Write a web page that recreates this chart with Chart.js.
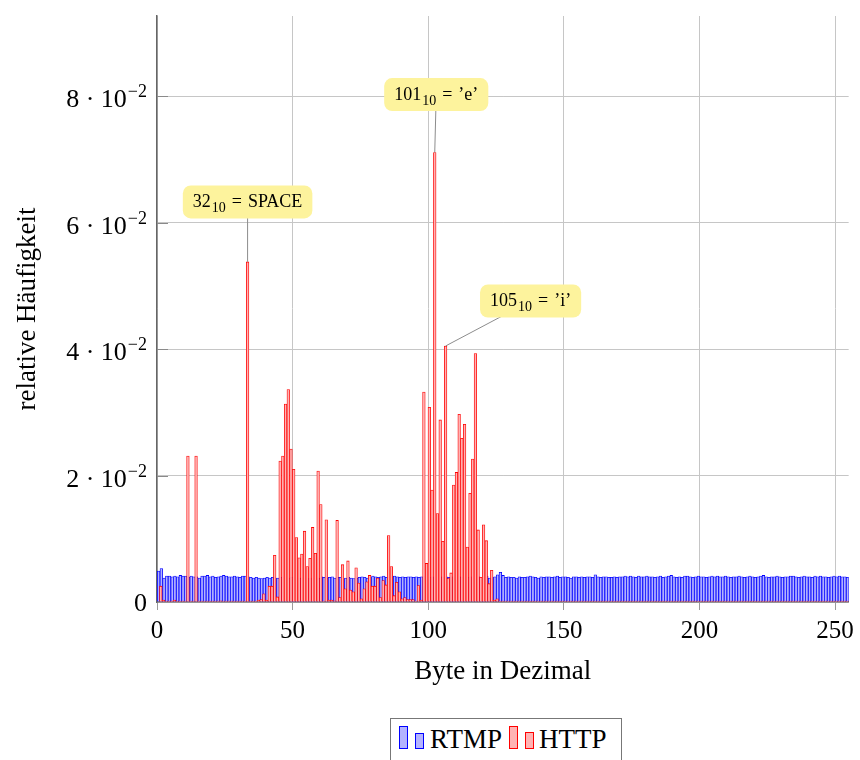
<!DOCTYPE html>
<html>
<head>
<meta charset="utf-8">
<script src="https://cdn.jsdelivr.net/npm/chart.js@4.4.0/dist/chart.umd.min.js"></script>
<style>
  html, body { margin: 0; padding: 0; background: #fff; }
  #wrap { position: relative; width: 860px; height: 760px; overflow: hidden; }
  #legend { position: absolute; left: 390px; top: 718px; width: 232px; height: 60px;
            border: 1px solid #777; box-sizing: border-box; background: #fff;
            font-family: "Liberation Serif", serif; font-size: 27px; line-height: 1; }
  #legend span { position: absolute; }
  .ico { box-sizing: border-box; width: 9px; border: 1.5px solid; }
  .ico.b { border-color: #0000ff; background: #b3b3ff; }
  .ico.r { border-color: #ff0000; background: #ffb3b3; }
</style>
</head>
<body>
<div id="wrap">
  <canvas id="grafico" width="860" height="760"></canvas>
  <div id="legend">
    <span class="ico b" style="left:8px; top:7px; height:23px"></span>
    <span class="ico b" style="left:24px; top:14px; height:16px"></span>
    <span style="left:39px; top:7px">RTMP</span>
    <span class="ico r" style="left:118px; top:7px; height:23px"></span>
    <span class="ico r" style="left:134px; top:13px; height:17px"></span>
    <span style="left:148px; top:7px">HTTP</span>
  </div>
</div>
<script>
// ==================================== DADOS =========================================//

// relative Häufigkeit je Byte 0..255
const rtmp = [
  0.0049,0.0053,0.0038,0.0041,0.0041,0.0040,0.0041,0.0040,0.0042,0.0041,0.0041,0.0039,0.0041,0.0040,0.0040,0.0038,
  0.0041,0.0041,0.0042,0.0040,0.0041,0.0039,0.0040,0.0041,0.0042,0.0041,0.0040,0.0040,0.0041,0.0040,0.0039,0.0041,
  0.0041,0.0040,0.0039,0.0038,0.0039,0.0038,0.0037,0.0038,0.0039,0.0038,0.0039,0.0038,0.0038,0.0039,0.0040,0.0039,
  0.0038,0.0039,0.0038,0.0037,0.0038,0.0039,0.0038,0.0037,0.0038,0.0038,0.0039,0.0038,0.0040,0.0039,0.0038,0.0039,
  0.0040,0.0038,0.0039,0.0039,0.0037,0.0038,0.0039,0.0038,0.0037,0.0038,0.0039,0.0040,0.0039,0.0038,0.0039,0.0041,
  0.0040,0.0039,0.0040,0.0041,0.0039,0.0040,0.0039,0.0041,0.0040,0.0039,0.0040,0.0039,0.0040,0.0040,0.0039,0.0040,
  0.0039,0.0040,0.0041,0.0040,0.0039,0.0040,0.0039,0.0038,0.0040,0.0039,0.0040,0.0039,0.0040,0.0039,0.0038,0.0040,
  0.0039,0.0040,0.0039,0.0040,0.0038,0.0039,0.0040,0.0039,0.0040,0.0041,0.0038,0.0039,0.0040,0.0043,0.0047,0.0042,
  0.0039,0.0040,0.0039,0.0039,0.0038,0.0040,0.0039,0.0039,0.0040,0.0041,0.0040,0.0039,0.0038,0.0040,0.0039,0.0040,
  0.0040,0.0039,0.0040,0.0041,0.0039,0.0040,0.0040,0.0039,0.0038,0.0040,0.0040,0.0039,0.0040,0.0039,0.0040,0.0040,
  0.0039,0.0043,0.0040,0.0039,0.0040,0.0040,0.0039,0.0039,0.0040,0.0039,0.0040,0.0040,0.0041,0.0040,0.0041,0.0040,
  0.0039,0.0041,0.0040,0.0040,0.0041,0.0040,0.0040,0.0039,0.0040,0.0041,0.0039,0.0040,0.0041,0.0042,0.0040,0.0039,
  0.0040,0.0039,0.0041,0.0041,0.0040,0.0039,0.0040,0.0041,0.0040,0.0040,0.0039,0.0040,0.0041,0.0040,0.0041,0.0040,
  0.0040,0.0041,0.0040,0.0039,0.0040,0.0040,0.0041,0.0040,0.0039,0.0040,0.0041,0.0040,0.0039,0.0040,0.0041,0.0042,
  0.0040,0.0039,0.0040,0.0040,0.0041,0.0040,0.0039,0.0040,0.0040,0.0041,0.0041,0.0040,0.0039,0.0040,0.0041,0.0040,
  0.0040,0.0039,0.0041,0.0040,0.0041,0.0040,0.0040,0.0039,0.0040,0.0041,0.0040,0.0041,0.0040,0.0040,0.0039,0.0040,
];

const http = [
  0.0025,0.0003,0,0,0,0.0003,0,0,0,0,0.0231,0,0,0.0231,0,0,
  0,0,0,0,0,0,0.0002,0,0,0,0,0,0,0,0,0,
  0.0538,0,0,0,0.0003,0.0004,0.0013,0.0003,0.0025,0.0025,0.0074,0.0008,0.0223,0.0231,0.0313,0.0336,
  0.0242,0.0210,0.0102,0.0070,0.0076,0.0112,0.0056,0.0069,0.0118,0.0077,0.0207,0.0154,0,0.0130,0.0003,0.0003,
  0.0002,0.0129,0.0007,0.0059,0.0021,0.0065,0.0019,0.0016,0.0054,0.0030,0.0005,0.0021,0.0032,0.0042,0.0025,0.0025,
  0.0038,0.0007,0.0034,0.0027,0.0105,0.0056,0.0010,0.0031,0.0016,0.0005,0.0007,0.0004,0.0004,0.0004,0,0.0026,
  0.0003,0.0332,0.0061,0.0308,0.0177,0.0711,0.0140,0.0288,0.0096,0.0405,0.0037,0.0046,0.0185,0.0205,0.0297,0.0259,
  0.0281,0.0087,0.0172,0.0226,0.0393,0.0114,0.0039,0.0122,0.0097,0.0029,0.0050,0.0003,0.0005,0,0,0,
  0,0,0,0,0,0,0,0,0,0,0,0,0,0,0,0,
  0,0,0,0,0,0,0,0,0,0,0,0,0,0,0,0,
  0,0,0,0,0,0,0,0,0,0,0,0,0,0,0,0,
  0,0,0,0,0,0,0,0,0,0,0,0,0,0,0,0,
  0,0,0,0,0,0,0,0,0,0,0,0,0,0,0,0,
  0,0,0,0,0,0,0,0,0,0,0,0,0,0,0,0,
  0,0,0,0,0,0,0,0,0,0,0,0,0,0,0,0,
  0,0,0,0,0,0,0,0,0,0,0,0,0,0,0,0,
];

const yTicks = [0, 0.02, 0.04, 0.06, 0.08];
const yTickText = ["0", "2 · 10", "4 · 10", "6 · 10", "8 · 10"];
const yTickExp = ["", "−2", "−2", "−2", "−2"];

const noteBytes = [32, 101, 105];
const noteNum = ["32", "101", "105"];
const noteRhs = ["SPACE", "’e’", "’i’"];

// ==================================== GRAFICO =========================================//

const SERIF = '"Liberation Serif", serif';
const SHIFT = 0.4; // ybar shift der beiden Serien

const dataRtmp = rtmp.map((v, i) => ({ x: i + 1 - SHIFT, y: v }));
const dataHttp = http.map((v, i) => ({ x: i + 1 + SHIFT, y: v }));

// Pins: Versatz der Box zur Balkenspitze (px)
const pinOffsets = [[0, -60], [1.5, -58], [85, -45]];

const overlay = {
  id: "overlay",
  afterDatasetsDraw(chart) {
    const ctx = chart.ctx;
    const y = chart.scales.y;
    const left = chart.chartArea.left;
    ctx.save();
    // innere Ticks der y-Achse
    ctx.strokeStyle = "#8a8a8a";
    ctx.lineWidth = 1;
    yTicks.forEach((v) => {
      if (v === 0) return;
      const py = Math.round(y.getPixelForValue(v)) + 0.5;
      ctx.beginPath();
      ctx.moveTo(left, py);
      ctx.lineTo(left + 11, py);
      ctx.stroke();
    });

    // Annotationen
    const meta = chart.getDatasetMeta(1);
    noteBytes.forEach((b, k) => {
      const el = meta.data[b];
      const bx = el.x + pinOffsets[k][0];
      const by = el.y + pinOffsets[k][1];
      const mainF = "18px " + SERIF;
      const subF = "14px " + SERIF;
      ctx.font = mainF;
      const w1 = ctx.measureText(noteNum[k]).width;
      const weq = ctx.measureText("=").width;
      const w3 = ctx.measureText(noteRhs[k]).width;
      ctx.font = subF;
      const w2 = ctx.measureText("10").width;
      const gap = 6;
      const tw = w1 + 1 + w2 + gap + weq + gap + w3;
      const bw = tw + 20, bh = 33;

      ctx.strokeStyle = "#8c8c8c";
      ctx.beginPath();
      ctx.moveTo(el.x, el.y);
      ctx.lineTo(bx, by);
      ctx.stroke();

      ctx.fillStyle = "rgb(253,243,157)";
      ctx.beginPath();
      ctx.roundRect(bx - bw / 2, by - bh / 2, bw, bh, 8);
      ctx.fill();

      ctx.fillStyle = "#000";
      ctx.textAlign = "left";
      ctx.textBaseline = "alphabetic";
      let tx = bx - tw / 2;
      const base = by + 5;
      ctx.font = mainF;
      ctx.fillText(noteNum[k], tx, base);
      tx += w1 + 1;
      ctx.font = subF;
      ctx.fillText("10", tx, base + 5);
      tx += w2 + gap;
      ctx.font = mainF;
      ctx.fillText("=", tx, base);
      tx += weq + gap;
      ctx.fillText(noteRhs[k], tx, base);
    });

    // y-Tick-Beschriftung mit Exponent
    ctx.fillStyle = "#000";
    ctx.textAlign = "right";
    ctx.textBaseline = "alphabetic";
    const rx = left - 10;
    yTicks.forEach((v, i) => {
      const py = y.getPixelForValue(v);
      if (yTickExp[i]) {
        ctx.font = "18px " + SERIF;
        const ew = ctx.measureText(yTickExp[i]).width;
        ctx.fillText(yTickExp[i], rx, py + 1);
        ctx.font = "26px " + SERIF;
        ctx.fillText(yTickText[i], rx - ew - 1, py + 11);
      } else {
        ctx.font = "26px " + SERIF;
        ctx.fillText(yTickText[i], rx, py + 9);
      }
    });
    ctx.restore();
  },
};

const config = {
  type: "bar",
  data: {
    datasets: [
      {
        label: "RTMP",
        data: dataRtmp,
        backgroundColor: "rgb(179, 179, 255)",
        borderColor: "rgb(0, 0, 255)",
        borderWidth: 0.8,
        grouped: false,
        barThickness: 2.6,
        order: 2,
      },
      {
        label: "HTTP",
        data: dataHttp,
        backgroundColor: "rgb(255, 179, 179)",
        borderColor: "rgb(255, 0, 0)",
        borderWidth: 0.8,
        grouped: false,
        barThickness: 2.6,
        minBarLength: 1,
        order: 1,
      },
    ],
  },
  options: {
    responsive: false,
    animation: false,
    layout: { padding: { top: 16, right: 8, left: 0, bottom: 0 } },
    plugins: { legend: { display: false }, tooltip: { enabled: false } },
    scales: {
      x: {
        type: "linear",
        min: 0,
        max: 255,
        offset: false,
        bounds: "ticks",
        afterFit(s) { s.height = 158; },
        ticks: { stepSize: 50, includeBounds: false, padding: 6, color: "#000", font: { family: SERIF, size: 25 } },
        grid: { offset: false, color: "#c6c6c6", lineWidth: 1, drawTicks: true, tickLength: 8, tickColor: "#9a9a9a" },
        border: { color: "#666", width: 1.5 },
        title: { display: true, text: "Byte in Dezimal", color: "#000", font: { family: SERIF, size: 27 }, padding: { bottom: 72 } },
      },
      y: {
        min: 0,
        max: 0.0927,
        afterFit(s) { s.width = 157; },
        ticks: { stepSize: 0.02, includeBounds: false, display: false },
        grid: { color: "#c6c6c6", lineWidth: 1, drawTicks: false },
        border: { color: "#666", width: 1.5 },
        title: { display: true, text: "relative Häufigkeit", color: "#000", font: { family: SERIF, size: 27 }, padding: { top: 12 } },
      },
    },
  },
  plugins: [overlay],
};

const grafico = new Chart(document.getElementById("grafico"), config);
</script>
</body>
</html>
